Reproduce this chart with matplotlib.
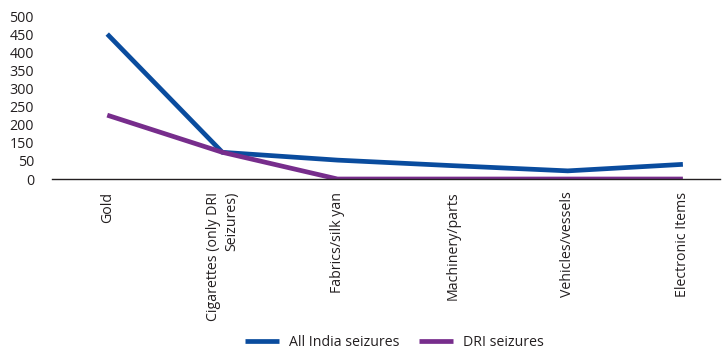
import matplotlib
matplotlib.use("Agg")
import matplotlib.pyplot as plt
import numpy as np

# seizure categories and values
categories = ["Gold", "Cigarettes (only DRI\nSeizures)", "Fabrics/silk yan",
              "Machinery/parts", "Vehicles/vessels", "Electronic Items"]
all_india = [445, 82, 58, 41, 25, 45]
dri = [196, 82, 0, 0, 0, 0]
ytick_labels = ["0", "50", "150", "200", "250", "300", "350", "400", "450", "500"]

plt.rcParams["font.family"] = ["Open Sans", "DejaVu Sans"]

fig = plt.figure(figsize=(7.27, 3.51), dpi=100)
ax = fig.add_axes([0.0715, 0.49, 0.9185, 0.464])

x = np.arange(len(categories))
ax.plot(x, all_india, color="#0a4c9e", lw=3.4, solid_capstyle="butt",
        label="All India seizures")
ax.plot(x, dri, color="#772d8c", lw=3.4, solid_capstyle="butt",
        label="DRI seizures")

ax.set_xlim(-0.48, 5.32)
ax.set_ylim(0, 500)
ax.set_yticks(np.linspace(0, 500, len(ytick_labels)))
ax.set_yticklabels(ytick_labels, fontsize=10.3, color="#231f20")
ax.set_xticks(x)
ax.set_xticklabels(categories, rotation=90, fontsize=10.2, color="#231f20",
                   va="top", ha="center", multialignment="right",
                   linespacing=1.3)
ax.tick_params(axis="y", length=0, pad=13)
ax.tick_params(axis="x", length=0, pad=9)

for s in ["top", "right", "left"]:
    ax.spines[s].set_visible(False)
ax.spines["bottom"].set_color("#231f20")
ax.spines["bottom"].set_linewidth(1.0)

fig.legend(loc="center", bbox_to_anchor=(0.543, 0.023), ncol=2, frameon=False,
           fontsize=10.2, handlelength=2.4, columnspacing=1.4, handletextpad=0.7,
           labelcolor="#231f20")

fig.savefig("out.png", dpi=100)
